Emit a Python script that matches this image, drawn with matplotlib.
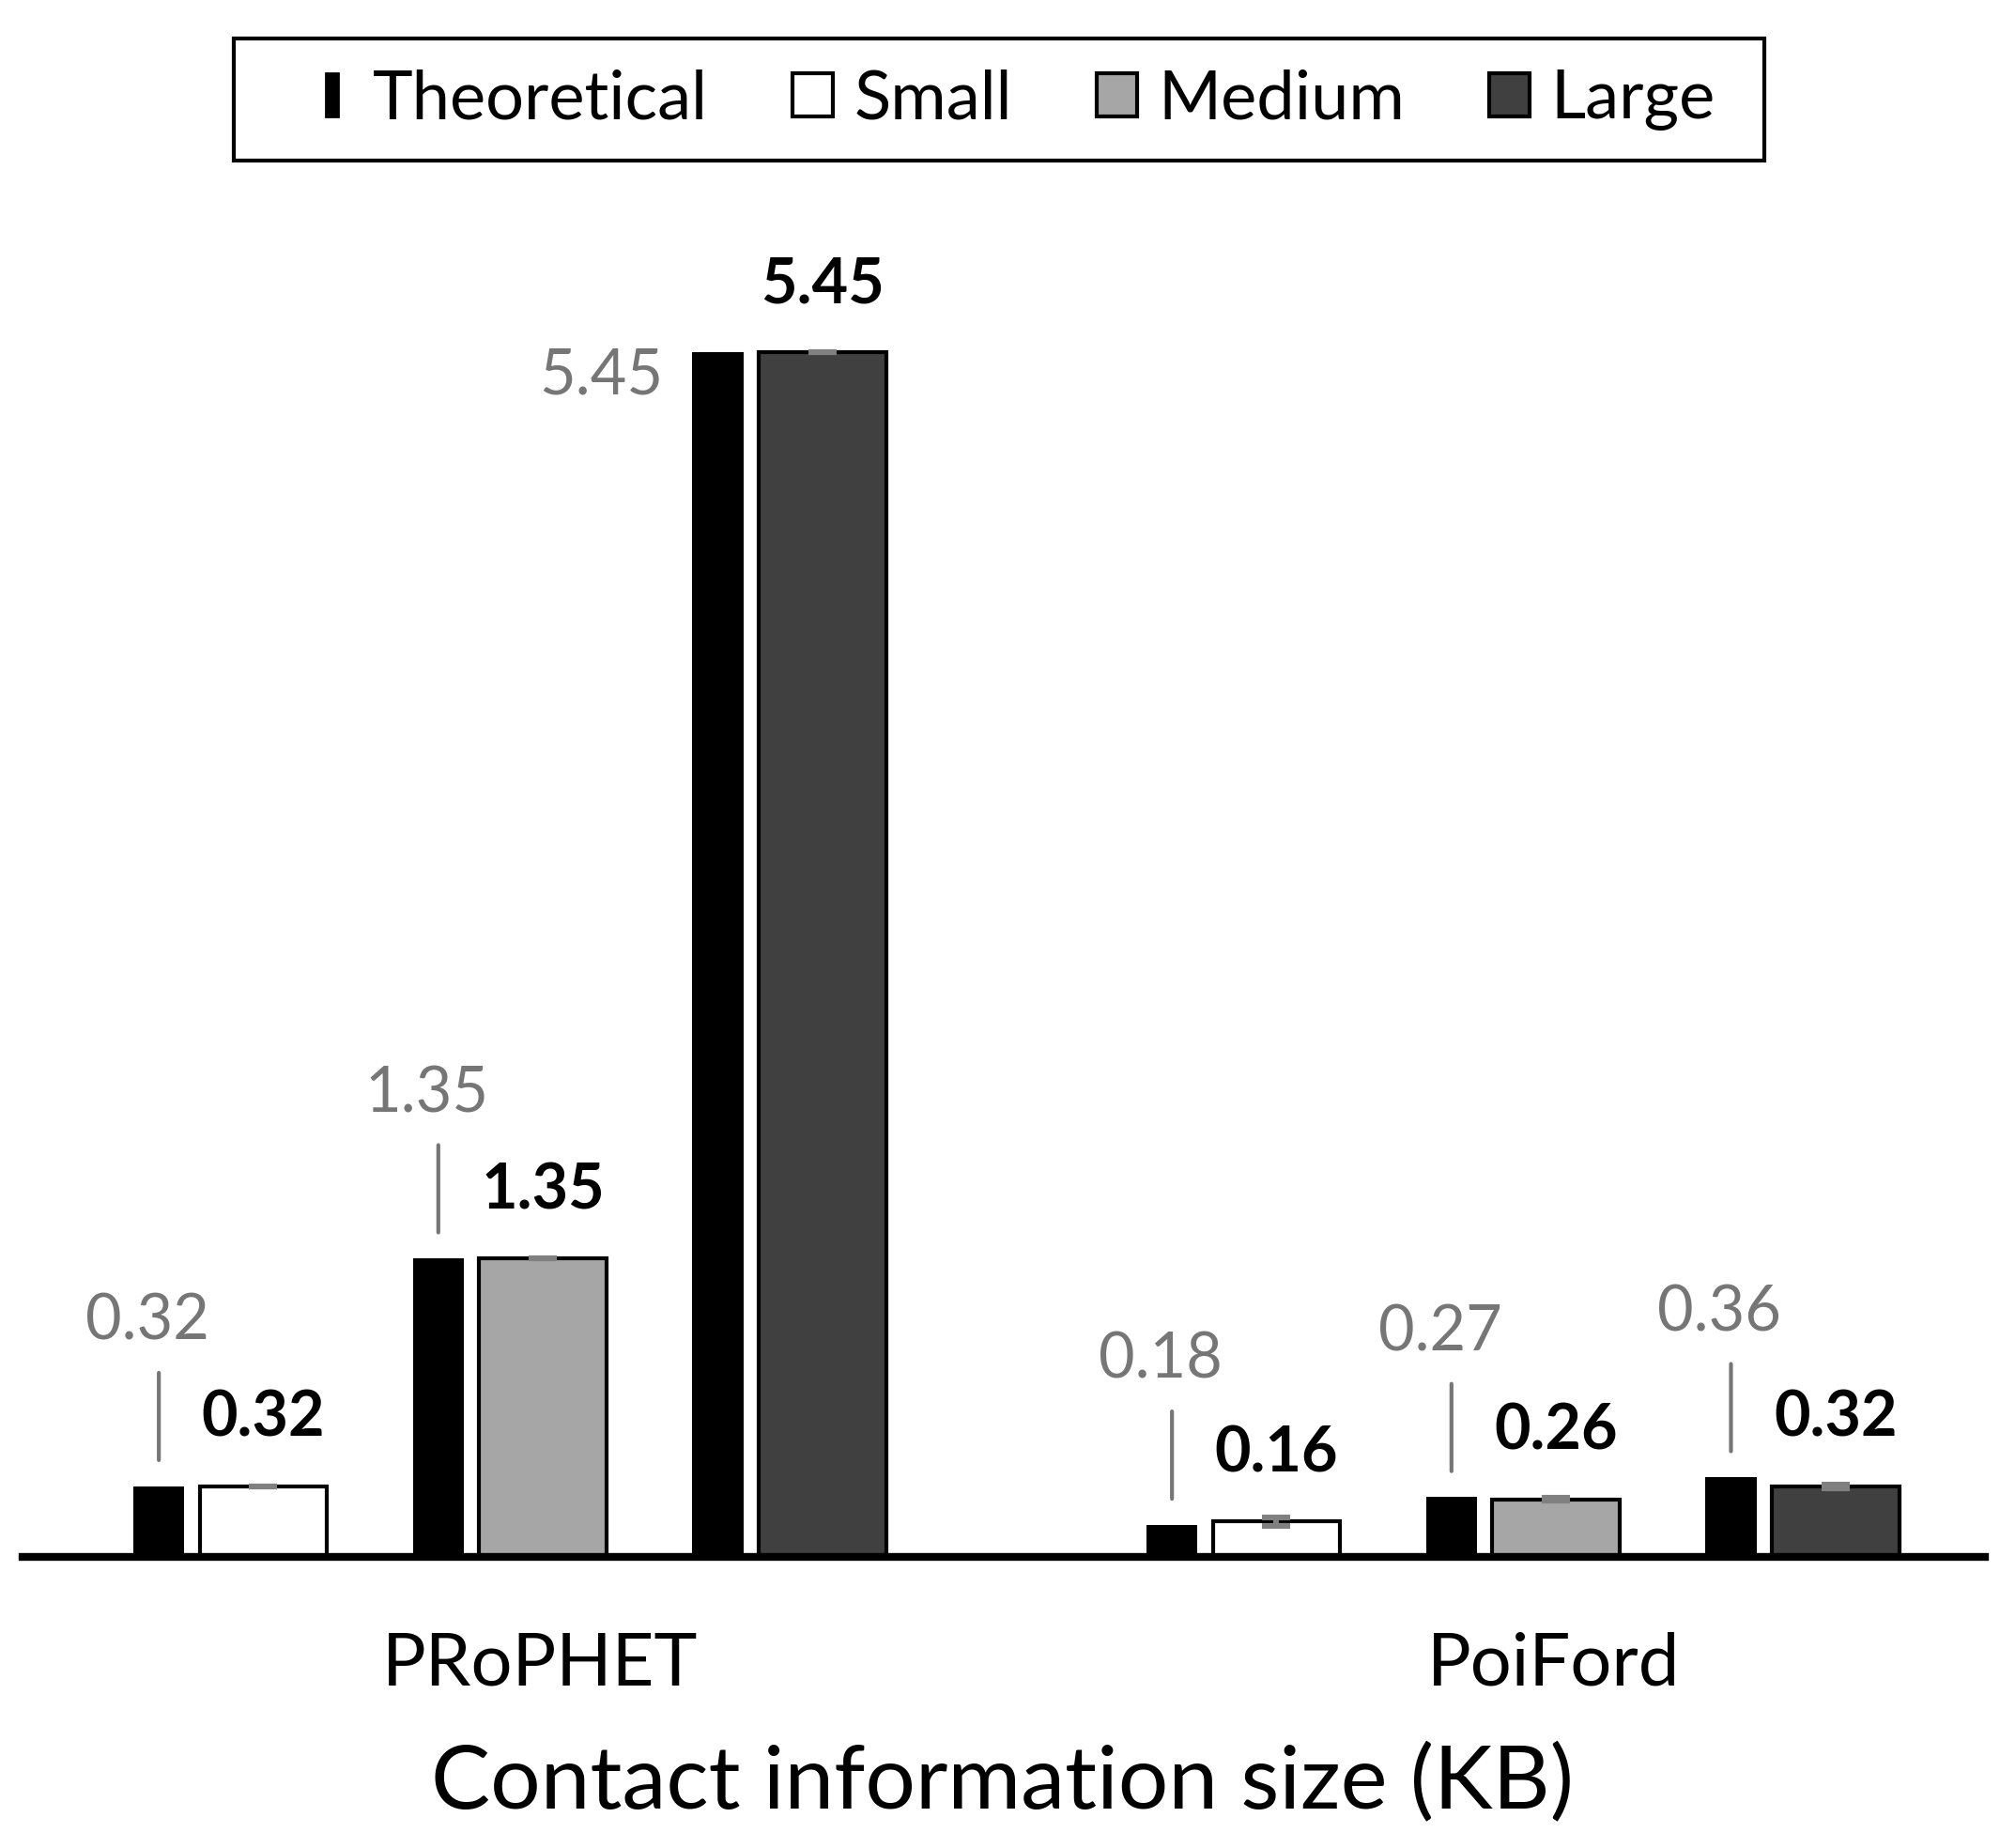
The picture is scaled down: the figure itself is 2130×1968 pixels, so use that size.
import matplotlib
matplotlib.use("Agg")
import matplotlib.pyplot as plt
import matplotlib.patches as mpatches
from matplotlib.legend_handler import HandlerPatch
import numpy as np

plt.rcParams["font.family"] = ["Lato", "DejaVu Sans"]

# data (KB)
PROTOCOLS = ["PRoPHET", "PoiFord"]
SCENARIOS = ["Small", "Medium", "Large"]
THEO_PROPHET = [0.32, 1.35, 5.45]
THEO_POIFORD = [0.145, 0.27, 0.36]          # bar heights as drawn
THEO_TEXT_PROPHET = ["0.32", "1.35", "5.45"]
THEO_TEXT_POIFORD = ["0.18", "0.27", "0.36"]  # labels as printed
MEAS_PROPHET = [0.32, 1.35, 5.45]
MEAS_POIFORD = [0.16, 0.26, 0.32]
ERR_PROPHET = [0.0, 0.0, 0.0]
ERR_POIFORD = [0.02, 0.006, 0.008]

FILL = {"Small": "white", "Medium": "#a6a6a6", "Large": "#404040"}
GRAY = "#767676"

# layout (one slot per scenario pair)
group_start = [0.0, 3.625]
w_theo, gap, w_meas = 0.183, 0.055, 0.455

fig = plt.figure(figsize=(10.65, 9.84), dpi=200)
ax = fig.add_axes([0.0115, 0.1575, 0.9808, 0.7176])

theo = [THEO_PROPHET, THEO_POIFORD]
theo_txt = [THEO_TEXT_PROPHET, THEO_TEXT_POIFORD]
meas = [MEAS_PROPHET, MEAS_POIFORD]
errs = [ERR_PROPHET, ERR_POIFORD]
ymax_theo = max(max(t) for t in theo)

for g in range(2):
    x0 = group_start[g] + np.arange(3)
    xt = x0 + w_theo / 2
    ax.bar(xt, theo[g], w_theo, color="black", lw=0)
    for x, v, s in zip(xt, theo[g], theo_txt[g]):
        if v == ymax_theo:
            ax.annotate(s, (x, v), xytext=(-21, -9), textcoords="offset points",
                        ha="right", va="center", fontsize=24, color=GRAY)
        else:
            ax.annotate("", (x, v), xytext=(0, 43.5), textcoords="offset points",
                        arrowprops=dict(arrowstyle="-", color=GRAY, lw=1.5,
                                        shrinkA=0, shrinkB=10))
            ax.annotate(s, (x, v), xytext=(-4.4, 63), textcoords="offset points",
                        ha="center", va="center", fontsize=24, color=GRAY)

for i, s in enumerate(SCENARIOS):
    xm = [group_start[g] + i + w_theo + gap + w_meas / 2 for g in range(2)]
    vals = [meas[g][i] for g in range(2)]
    ax.bar(xm, vals, w_meas, color=FILL[s], edgecolor="black", lw=1.5,
           yerr=[errs[g][i] for g in range(2)],
           error_kw=dict(ecolor="#808080", capsize=5.4, capthick=2.2, elinewidth=2.2))
    for x, v in zip(xm, vals):
        ax.annotate(f"{v:.2f}", (x, v), xytext=(0, 26), textcoords="offset points",
                    ha="center", va="center", fontsize=24, fontweight="bold")

# group names under the axis
for g, name in enumerate(PROTOCOLS):
    xc = group_start[g] + (2 + w_theo + gap + w_meas) / 2 + 0.11
    ax.annotate(name, (xc, 0), xytext=(0, -49), textcoords="offset points",
                ha="center", va="baseline", fontsize=28)

ax.set_xlim(-0.3945, 6.624)
ax.set_ylim(0, 6.0)
for sp in ["left", "right", "top"]:
    ax.spines[sp].set_visible(False)
ax.spines["bottom"].set_linewidth(3)
ax.set_xticks([])
ax.set_yticks([])

fig.text(0.501, 0.021, "Contact information size (KB)", ha="center", va="baseline",
         fontsize=34)

# legend: theoretical shown as a thin bar, frame drawn as its own box
def thin_bar(legend, orig_handle, xdescent, ydescent, width, height, fontsize):
    return mpatches.Rectangle((width * 0.35 - xdescent, -ydescent), width * 0.3, height)

h_theo = mpatches.Patch(facecolor="black", edgecolor="black")
handles = [h_theo] + [mpatches.Patch(facecolor=FILL[s], edgecolor="black", lw=1.5)
                      for s in SCENARIOS]
fig.legend(handles, ["Theoretical"] + SCENARIOS, loc="center",
           bbox_to_anchor=(0.5066, 0.946), ncol=4, fontsize=26, frameon=False,
           handlelength=0.6, handleheight=0.6, handletextpad=0.3,
           columnspacing=1.25, borderpad=0, borderaxespad=0,
           handler_map={h_theo: HandlerPatch(patch_func=thin_bar)})
fig.patches.append(mpatches.Rectangle((0.117, 0.913), 0.765, 0.066, transform=fig.transFigure,
                                      fill=False, edgecolor="black", lw=1.5))

fig.savefig("out.png", dpi=200)
